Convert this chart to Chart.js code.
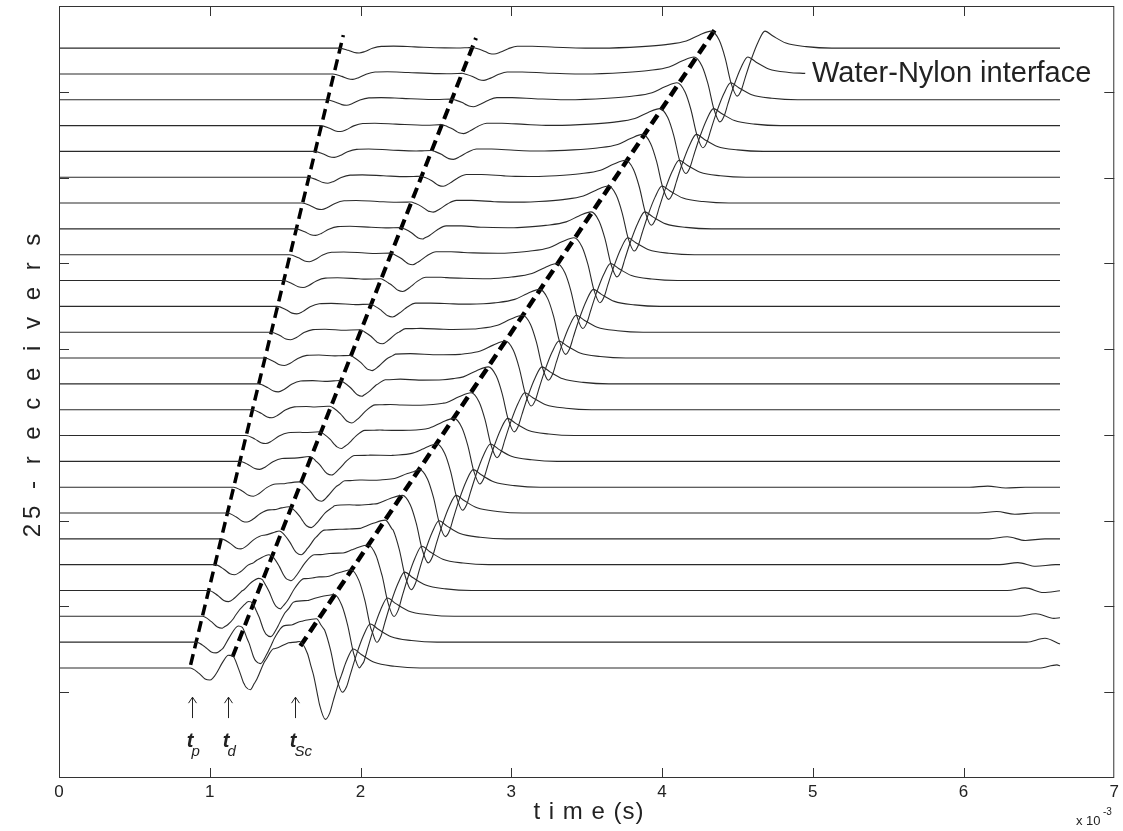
<!DOCTYPE html>
<html>
<head>
<meta charset="utf-8">
<script src="https://cdn.jsdelivr.net/npm/chart.js@4.4.1/dist/chart.umd.min.js"></script>
<style>
  html, body { margin: 0; padding: 0; background: #fff; }
  canvas { display: block; }
</style>
</head>
<body>
<canvas id="myChart" width="1123" height="831"></canvas>
<script>
// receivers, index 0 = bottom trace (nearest), 24 = top trace
// arrival times in ms (axis is x 10^-3 s)
const tP = [0.869, 0.910, 0.951, 0.993, 1.034, 1.075, 1.116, 1.158, 1.199, 1.240, 1.281, 1.323, 1.364,
            1.405, 1.446, 1.487, 1.529, 1.570, 1.611, 1.652, 1.694, 1.735, 1.776, 1.817, 1.859];
const tD = [1.123, 1.190, 1.258, 1.325, 1.392, 1.460, 1.527, 1.595, 1.662, 1.729, 1.797, 1.864, 1.931,
            1.999, 2.066, 2.134, 2.201, 2.268, 2.336, 2.403, 2.470, 2.538, 2.605, 2.673, 2.740];
const tS = [1.595, 1.708, 1.822, 1.936, 2.050, 2.164, 2.277, 2.391, 2.505, 2.619, 2.733, 2.847, 2.960,
            3.074, 3.188, 3.302, 3.416, 3.529, 3.643, 3.757, 3.871, 3.985, 4.099, 4.212, 4.326];
const tLate = [6.62, 6.54, 6.48, 6.41, 6.36, 6.29, 6.22, 6.16];

// amplitudes, in trace spacings
const aP = [0.50, 0.43, 0.46, 0.43, 0.39, 0.39, 0.35, 0.35, 0.31, 0.31, 0.31, 0.31, 0.29,
            0.29, 0.29, 0.27, 0.27, 0.25, 0.25, 0.23, 0.23, 0.23, 0.21, 0.21, 0.19];
const bD = [0.43, 0.54, 0.46, 0.35, 0.27, 0.19, 0.15, 0.12, 0.12, 0.08, 0.08, 0.08, 0.06,
            0.06, 0.06, 0.05, 0.05, 0.05, 0.04, 0.04, 0.04, 0.04, 0.03, 0.03, 0.03];
const aD = [1.16, 1.08, 1.01, 0.89, 0.77, 0.74, 0.66, 0.62, 0.58, 0.54, 0.54, 0.50, 0.50,
            0.46, 0.42, 0.43, 0.39, 0.39, 0.35, 0.35, 0.31, 0.31, 0.27, 0.25, 0.23];
const aS = [1.12, 1.07, 1.08, 1.08, 1.08, 1.06, 1.04, 1.03, 1.02, 1.01, 1.0, 1.0, 1.0,
            1.0, 1.0, 1.0, 1.0, 1.0, 1.0, 1.0, 1.0, 1.0, 1.0, 1.0, 1.0];
const aLate = [0.12, 0.15, 0.10, 0.10, 0.08, 0.08, 0.06, 0.04];
const traceEnd = [6.64, 6.64, 6.64, 6.64, 6.64, 6.64, 6.64, 6.64, 6.64, 6.64, 6.64, 6.64, 6.64,
                  6.64, 6.64, 6.64, 6.64, 6.64, 6.64, 6.64, 6.64, 6.64, 6.64, 4.95, 6.64];

// wavelet shapes: [ms after arrival, amplitude]
const pShape = [[0, 0], [0.06, -0.45], [0.10, -0.9], [0.132, -1], [0.17, -0.7], [0.22, -0.05],
                [0.28, 0.35], [0.36, 0.4], [0.5, 0.25], [0.7, 0.05], [0.85, 0]];
const dPre = [[-0.1, 0], [0.026, 1], [0.1, 0]];
const dShape = [[0, 0], [0.07, -0.45], [0.115, -0.9], [0.146, -1], [0.19, -0.65], [0.24, -0.1],
                [0.3, 0.3], [0.4, 0.3], [0.55, 0.15], [0.75, 0]];
const sShape = [[-0.73, 0], [-0.46, 0.058], [-0.3, 0.135], [-0.165, 0.271], [-0.08, 0.5], [0, 0.658],
                [0.053, 0.31], [0.093, -0.387], [0.132, -1.355], [0.172, -1.858], [0.2, -1.63],
                [0.225, -1.16], [0.265, -0.45], [0.311, 0.23], [0.357, 0.658], [0.41, 0.465],
                [0.496, 0.194], [0.63, 0.058], [0.8, 0]];
const lateShape = [[-0.12, 0], [0, 1], [0.12, -0.8], [0.25, 0]];

// picked arrival lines [time, receiver]
const tpLine = [[0.873, 0.12], [1.886, 24.5]];
const tdLine = [[1.151, 0.43], [2.766, 24.39]];
const tscLine = [[1.601, 0.85], [4.367, 24.85]];
const arrowT = [0.880, 1.124, 1.568];
const arrowSub = ['p', 'd', 'Sc'];

const xTicks = [0, 1, 2, 3, 4, 5, 6, 7];
const yMin = -4.26, yMax = 25.63, yStep = 3.321;

function shapeAt(shape, dt) {
  if (dt <= shape[0][0] || dt >= shape[shape.length - 1][0]) return 0;
  for (let i = 1; i < shape.length; i++) {
    if (dt <= shape[i][0]) {
      const [t0, a0] = shape[i - 1], [t1, a1] = shape[i];
      return a0 + (a1 - a0) * (dt - t0) / (t1 - t0);
    }
  }
  return 0;
}

function buildTrace(k) {
  const waves = [
    [pShape, tP[k], aP[k]],
    [dPre, tD[k], bD[k]],
    [dShape, tD[k], aD[k]],
    [sShape, tS[k], aS[k]]
  ];
  if (k < tLate.length) waves.push([lateShape, tLate[k], aLate[k]]);
  const end = traceEnd[k];
  let times = [0, end];
  waves.forEach(([s, t0]) => s.forEach(p => times.push(+(t0 + p[0]).toFixed(4))));
  times = [...new Set(times)].filter(t => t >= 0 && t <= end).sort((a, b) => a - b);
  return times.map(t => {
    let v = k;
    waves.forEach(([s, t0, amp]) => { v += amp * shapeAt(s, t - t0); });
    return { x: t, y: v };
  });
}

const datasets = [];
for (let k = 0; k < 25; k++) {
  datasets.push({
    data: buildTrace(k),
    borderColor: '#2a2a2a',
    borderWidth: 1.1,
    pointRadius: 0,
    tension: 0.4,
    cubicInterpolationMode: 'monotone'
  });
}
[[tpLine, 3.5], [tdLine, 4], [tscLine, 4.5]].forEach(([ln, w]) => {
  datasets.push({
    data: ln.map(p => ({ x: p[0], y: p[1] })),
    borderColor: '#000',
    borderWidth: w,
    borderDash: [11, 6],
    pointRadius: 0,
    tension: 0
  });
});

const FONT = "'Liberation Sans', Arial, sans-serif";

const decor = {
  id: 'decor',
  afterDatasetsDraw(chart) {
    const { ctx, chartArea: a, scales: { x, y } } = chart;
    ctx.save();
    ctx.strokeStyle = '#333';
    ctx.lineWidth = 1;
    ctx.strokeRect(a.left + 0.5, a.top + 0.5, a.right - a.left - 1, a.bottom - a.top - 1);
    ctx.beginPath();
    x.ticks.forEach(t => {
      const px = Math.round(x.getPixelForValue(t.value)) + 0.5;
      if (px < a.left + 2 || px > a.right - 2) return;
      ctx.moveTo(px, a.bottom); ctx.lineTo(px, a.bottom - 10);
      ctx.moveTo(px, a.top); ctx.lineTo(px, a.top + 10);
    });
    y.ticks.forEach(t => {
      const py = Math.round(y.getPixelForValue(t.value)) + 0.5;
      if (py < a.top + 2 || py > a.bottom - 2) return;
      ctx.moveTo(a.left, py); ctx.lineTo(a.left + 10, py);
      ctx.moveTo(a.right, py); ctx.lineTo(a.right - 10, py);
    });
    ctx.stroke();

    // arrows and pick labels
    ctx.strokeStyle = '#222';
    ctx.fillStyle = '#222';
    arrowT.forEach((t, i) => {
      const px = Math.round(x.getPixelForValue(t)) + 0.5;
      const y0 = y.getPixelForValue(-1.94), y1 = y.getPixelForValue(-1.13);
      ctx.beginPath();
      ctx.moveTo(px, y0); ctx.lineTo(px, y1);
      ctx.moveTo(px - 4, y1 + 6); ctx.lineTo(px, y1); ctx.lineTo(px + 4, y1 + 6);
      ctx.stroke();
      ctx.textBaseline = 'alphabetic';
      ctx.textAlign = 'right';
      ctx.font = 'italic bold 20px ' + FONT;
      ctx.fillText('t', px + 1, 747);
      ctx.textAlign = 'left';
      ctx.font = 'italic 15px ' + FONT;
      ctx.fillText(arrowSub[i], px - 1, 756);
    });

    ctx.font = '29px ' + FONT;
    ctx.textAlign = 'left';
    ctx.textBaseline = 'middle';
    ctx.fillText('Water-Nylon interface', 812, 74);
    ctx.restore();
  },
  afterDraw(chart) {
    const { ctx } = chart;
    ctx.save();
    ctx.fillStyle = '#222';
    ctx.textBaseline = 'middle';
    ctx.textAlign = 'center';
    ctx.font = '24px ' + FONT;
    ctx.letterSpacing = '1px';
    ctx.fillText('t i m e (s)', 589, 812);
    ctx.save();
    ctx.translate(33, 383);
    ctx.rotate(-Math.PI / 2);
    ctx.font = '24px ' + FONT;
    ctx.letterSpacing = '5px';
    ctx.fillText('25 - r e c e i v e r s', 0, 0);
    ctx.restore();
    ctx.letterSpacing = '0px';
    ctx.textAlign = 'left';
    ctx.font = '13px ' + FONT;
    ctx.fillText('x 10', 1076, 821);
    ctx.font = '10px ' + FONT;
    ctx.fillText('-3', 1103, 812);
    ctx.restore();
  }
};

const ctx = document.getElementById('myChart');
const myChart = new Chart(ctx, {
  type: 'line',
  data: { datasets: datasets },
  options: {
    responsive: false,
    animation: false,
    devicePixelRatio: 1,
    layout: { padding: { top: 6, right: 6, left: 0, bottom: 0 } },
    plugins: { legend: { display: false }, tooltip: { enabled: false } },
    scales: {
      x: {
        type: 'linear',
        min: 0, max: 7,
        afterFit(s) { s.height = 53; },
        afterBuildTicks(s) { s.ticks = xTicks.map(v => ({ value: v })); },
        grid: { display: false, drawTicks: false },
        border: { display: false },
        ticks: { padding: 4, color: '#222', font: { family: FONT, size: 17 } }
      },
      y: {
        type: 'linear',
        min: yMin, max: yMax,
        afterFit(s) { s.width = 59; },
        afterBuildTicks(s) {
          const t = [];
          for (let v = yMin; v <= yMax + 0.01; v += yStep) t.push({ value: v });
          s.ticks = t;
        },
        grid: { display: false, drawTicks: false },
        border: { display: false },
        ticks: { display: false }
      }
    }
  },
  plugins: [decor]
});
</script>
</body>
</html>
